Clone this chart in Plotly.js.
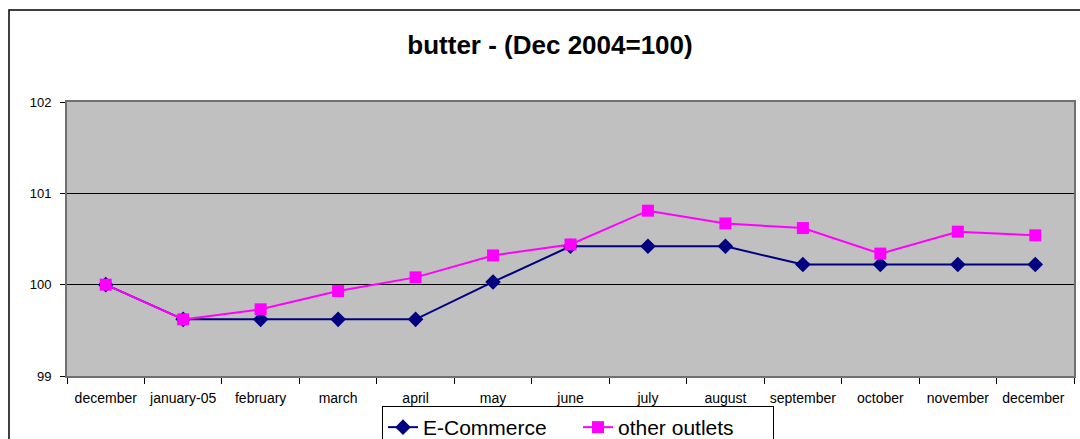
<!DOCTYPE html>
<html>
<head>
<meta charset="utf-8">
<script src="https://cdn.plot.ly/plotly-3.0.1.min.js"></script>
<style>
html,body{margin:0;padding:0;background:#fff;}
#chart{width:1080px;height:439px;}
</style>
</head>
<body>
<div id="chart"></div>
<script>
var categories = ["december","january-05","february","march","april","may","june","july","august","september","october","november","december "];
var ecommerce = [100, 99.62, 99.62, 99.62, 99.62, 100.03, 100.42, 100.42, 100.42, 100.22, 100.22, 100.22, 100.22];
var otherOutlets = [100, 99.62, 99.73, 99.93, 100.08, 100.32, 100.44, 100.81, 100.67, 100.62, 100.34, 100.58, 100.54];
var yTicks = [99, 100, 101, 102];

var W = 1080, H = 439, L = 67, R = 6, T = 102, B = 63;
var pw = W - L - R, ph = H - T - B;
function px(x){ return (x - L) / pw; }
function py(y){ return (H - B - y) / ph; }

var traces = [
  {x: categories, y: ecommerce, name: "E-Commerce", type: "scatter", mode: "lines+markers",
   line: {color: "#000080", width: 2}, marker: {symbol: "diamond", size: 12, color: "#000080"}},
  {x: categories, y: otherOutlets, name: "other outlets", type: "scatter", mode: "lines+markers",
   line: {color: "#FF00FF", width: 2}, marker: {symbol: "square", size: 12, color: "#FF00FF"}}
];

var layout = {
  width: W, height: H,
  margin: {l: L, r: R, t: T, b: B, autoexpand: false},
  paper_bgcolor: "#ffffff",
  plot_bgcolor: "#C0C0C0",
  font: {family: "Liberation Sans, Arial, sans-serif", color: "#000"},
  title: {text: "<b>butter - (Dec 2004=100)</b>", font: {size: 26, color: "#000"},
          x: 550 / W, xanchor: "center", xref: "container", y: 1 - 45/H, yref: "container", yanchor: "middle"},
  xaxis: {type: "category", range: [-0.5, 12.5], tickson: "boundaries", ticks: "outside", ticklen: 6, tickcolor: "#000",
          showline: true, linecolor: "#707070", linewidth: 2, mirror: true, showgrid: false,
          ticklabelstandoff: 8, tickfont: {size: 14}, fixedrange: true},
  yaxis: {range: [99, 102], tickvals: yTicks, ticks: "outside", ticklen: 5, tickcolor: "#000",
          showline: true, linecolor: "#707070", linewidth: 2, mirror: true,
          gridcolor: "#000", gridwidth: 1, zeroline: false, ticklabelstandoff: 6,
          tickfont: {size: 13}, fixedrange: true},
  showlegend: true,
  legend: {orientation: "h", x: px(382), xanchor: "left", y: py(406), yanchor: "top",
           entrywidth: 150, entrywidthmode: "pixels",
           bordercolor: "#000", borderwidth: 1, bgcolor: "#fff", font: {size: 21}},
  shapes: [
    {type: "rect", xref: "paper", yref: "paper", x0: px(9), x1: px(1090), y0: py(470), y1: py(10),
     line: {color: "#000", width: 1.5}, fillcolor: "rgba(0,0,0,0)", layer: "below"}
  ]
};

Plotly.newPlot("chart", traces, layout, {displayModeBar: false, staticPlot: true});
</script>
</body>
</html>
